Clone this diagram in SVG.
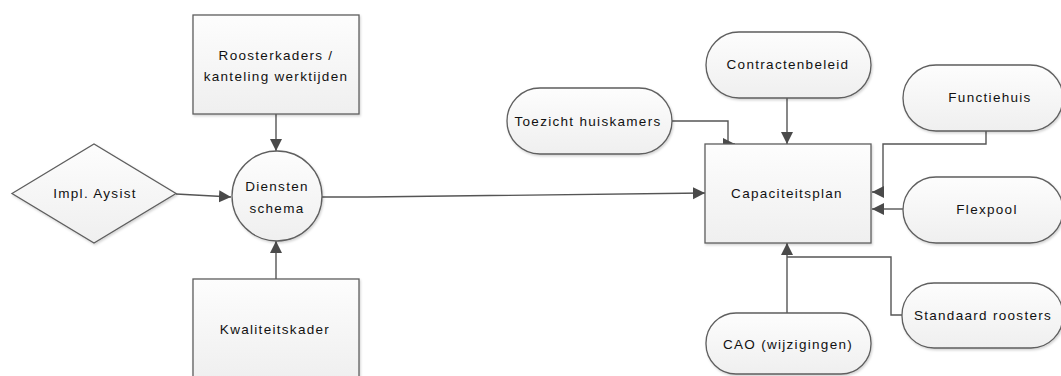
<svg xmlns="http://www.w3.org/2000/svg" width="1061" height="376" viewBox="0 0 1061 376">
<style>
.shape{fill:url(#g);stroke:#5e5e5e;stroke-width:1.3;filter:url(#sh)}
.t{font-family:"Liberation Sans",Arial,sans-serif;font-size:13.5px;letter-spacing:1.3px;fill:#111;text-anchor:middle}
.c{fill:none;stroke:#555;stroke-width:1.4}
</style>
<defs>
<linearGradient id="g" x1="0" y1="0" x2="0" y2="1">
<stop offset="0" stop-color="#fdfdfd"/>
<stop offset="1" stop-color="#efefef"/>
</linearGradient>
<filter id="sh" x="-10%" y="-10%" width="130%" height="140%">
<feDropShadow dx="1" dy="1.5" stdDeviation="1" flood-color="#000" flood-opacity="0.18"/>
</filter>
<marker id="a" markerUnits="userSpaceOnUse" markerWidth="13" markerHeight="13" refX="12" refY="6" orient="auto">
<path d="M0,0 L12,6 L0,12 z" fill="#4a4a4a"/>
</marker>
</defs>
<g id="connectors">
<path class="c" d="M276,114 V151" marker-end="url(#a)"/>
<path class="c" d="M276,279 V241" marker-end="url(#a)"/>
<path class="c" d="M176,194 L213,196 L231,197" marker-end="url(#a)"/>
<path class="c" d="M322,197 L367,197 L705,193" marker-end="url(#a)"/>
<path class="c" d="M672,121 H728 V144 H735" marker-end="url(#a)"/>
<path class="c" d="M787,98 V144" marker-end="url(#a)"/>
<path class="c" d="M986,131 V144 H883 V192 H872" marker-end="url(#a)"/>
<path class="c" d="M903,209 H872" marker-end="url(#a)"/>
<path class="c" d="M787,313 V243" marker-end="url(#a)"/>
<path class="c" d="M902,315 H891 V257 H787"/>
</g>
<g id="roosterkaders">
<rect class="shape" x="193" y="15" width="166" height="99"/>
<text class="t" x="276" y="60">Roosterkaders /</text>
<text class="t" x="276" y="81">kanteling werktijden</text>
</g>
<g id="impl-aysist">
<polygon class="shape" points="12,193.5 94,144 176,193.5 94,243"/>
<text class="t" x="95" y="198">Impl. Aysist</text>
</g>
<g id="diensten-schema">
<circle class="shape" cx="277" cy="196" r="45"/>
<text class="t" x="277" y="191">Diensten</text>
<text class="t" x="277" y="213">schema</text>
</g>
<g id="kwaliteitskader">
<rect class="shape" x="193" y="279" width="166" height="102"/>
<text class="t" x="275" y="334">Kwaliteitskader</text>
</g>
<g id="capaciteitsplan">
<rect class="shape" x="705" y="144" width="166" height="99"/>
<text class="t" x="787" y="198">Capaciteitsplan</text>
</g>
<g id="toezicht-huiskamers">
<rect class="shape" x="507" y="88" width="165" height="66" rx="33" ry="33"/>
<text class="t" x="588" y="126">Toezicht huiskamers</text>
</g>
<g id="contractenbeleid">
<rect class="shape" x="706" y="32" width="165" height="66" rx="33" ry="33"/>
<text class="t" x="788" y="69">Contractenbeleid</text>
</g>
<g id="functiehuis">
<rect class="shape" x="903" y="65" width="160" height="66" rx="33" ry="33"/>
<text class="t" x="990" y="102">Functiehuis</text>
</g>
<g id="flexpool">
<rect class="shape" x="903" y="177" width="160" height="66" rx="33" ry="33"/>
<text class="t" x="987" y="214">Flexpool</text>
</g>
<g id="standaard-roosters">
<rect class="shape" x="902" y="283" width="161" height="65" rx="32" ry="32"/>
<text class="t" x="983" y="320">Standaard roosters</text>
</g>
<g id="cao">
<rect class="shape" x="706" y="313" width="165" height="61" rx="30" ry="30"/>
<text class="t" x="788" y="349">CAO (wijzigingen)</text>
</g>
</svg>
